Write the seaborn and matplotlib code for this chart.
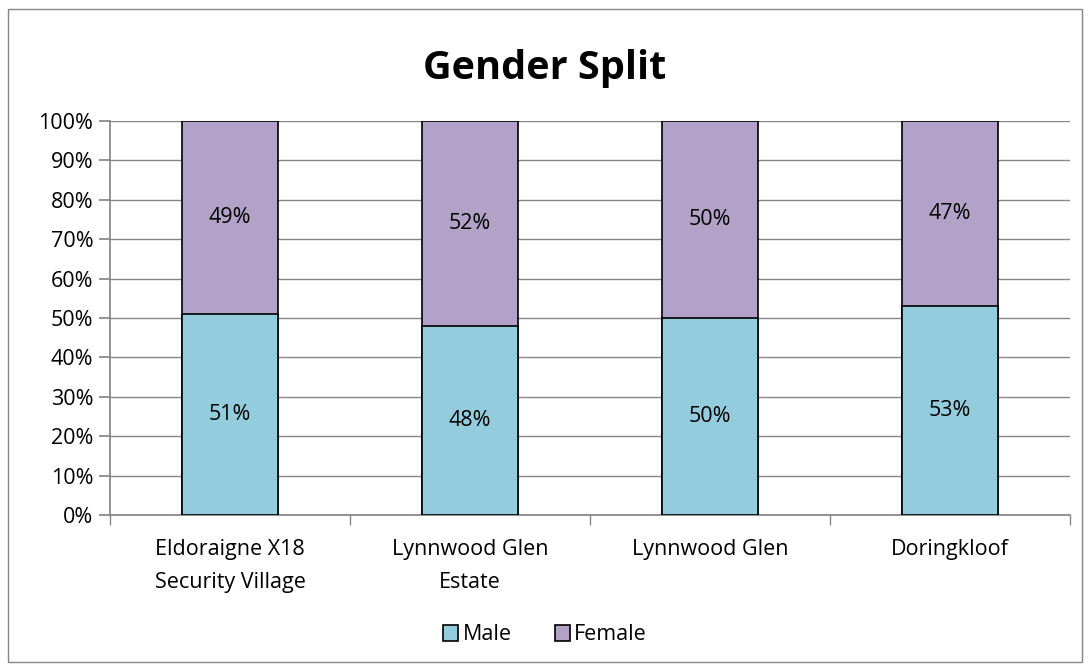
import matplotlib
matplotlib.use("Agg")
import matplotlib.pyplot as plt
import seaborn as sns
import pandas as pd
import numpy as np
from matplotlib.patches import Rectangle, Patch
from matplotlib.ticker import FixedLocator, PercentFormatter

categories = ["Eldoraigne X18\nSecurity Village", "Lynnwood Glen\nEstate", "Lynnwood Glen", "Doringkloof"]
male = [51, 48, 50, 53]
female = [49, 52, 50, 47]
series_names = ["Male", "Female"]
male_color = "#93CDDD"
female_color = "#B3A2C7"

sns.set_theme(style="white")
plt.rcParams['font.family'] = ['Open Sans', 'DejaVu Sans']
plt.rcParams['text.color'] = 'black'

FS = 15.5

fig = plt.figure(figsize=(10.9, 6.7), dpi=100)
ax = fig.add_axes([110/1090, 1 - 515/670, 960/1090, (515-121)/670])

df = pd.DataFrame({"cat": categories, "male": male, "female": female})
df["total"] = df["male"] + df["female"]

sns.barplot(data=df, x="cat", y="total", color=female_color, width=0.4,
            edgecolor="black", linewidth=1.2, saturation=1, ax=ax, zorder=3)
sns.barplot(data=df, x="cat", y="male", color=male_color, width=0.4,
            edgecolor="black", linewidth=1.2, saturation=1, ax=ax, zorder=4)

for i, (m, f) in enumerate(zip(male, female)):
    ax.text(i, m / 2, f"{m}%", ha="center", va="center", fontsize=FS, color="black", zorder=5)
    ax.text(i, m + f / 2, f"{f}%", ha="center", va="center", fontsize=FS, color="black", zorder=5)

ax.set_ylim(0, 100)
ax.set_xlim(-0.5, 3.5)
ax.yaxis.set_major_locator(FixedLocator(np.arange(0, 101, 10)))
ax.yaxis.set_major_formatter(PercentFormatter(decimals=0))
ax.grid(axis="y", color="#868686", linewidth=1, zorder=0)
ax.set_axisbelow(True)
ax.set_xlabel("")
ax.set_ylabel("")
for s in ["top", "right"]:
    ax.spines[s].set_visible(False)
ax.spines["left"].set_color("#868686")
ax.spines["bottom"].set_color("#868686")
ax.spines["left"].set_zorder(6)
ax.tick_params(axis="y", which="major", left=True, length=8, color="#868686", labelsize=FS, pad=4)
ax.tick_params(axis="x", which="major", bottom=False, labelsize=FS, pad=11)
ax.xaxis.set_minor_locator(FixedLocator([-0.5, 0.5, 1.5, 2.5, 3.5]))
ax.tick_params(axis="x", which="minor", bottom=True, length=7, color="#868686")
for lbl in ax.get_yticklabels() + ax.get_xticklabels():
    lbl.set_color("black")
for lbl in ax.get_xticklabels():
    lbl.set_linespacing(1.75)

fig.text(0.5, 1 - 68/670, "Gender Split", ha="center", va="center", fontsize=28.5, fontweight="bold", color="black")

handles = [Patch(facecolor=male_color, edgecolor="black", linewidth=1.2, label=series_names[0]),
           Patch(facecolor=female_color, edgecolor="black", linewidth=1.2, label=series_names[1])]
fig.legend(handles=handles, loc="center", bbox_to_anchor=(0.5, 1 - 635/670), ncol=2, frameon=False,
           fontsize=FS, handlelength=0.7, handleheight=0.7, handletextpad=0.2, columnspacing=2.0)

fig.patches.append(Rectangle((8/1090, 1 - 662/670), (1082-8)/1090, (662-9)/670, transform=fig.transFigure,
                             fill=False, edgecolor="#868686", linewidth=1))

fig.savefig("out.png", dpi=100)
